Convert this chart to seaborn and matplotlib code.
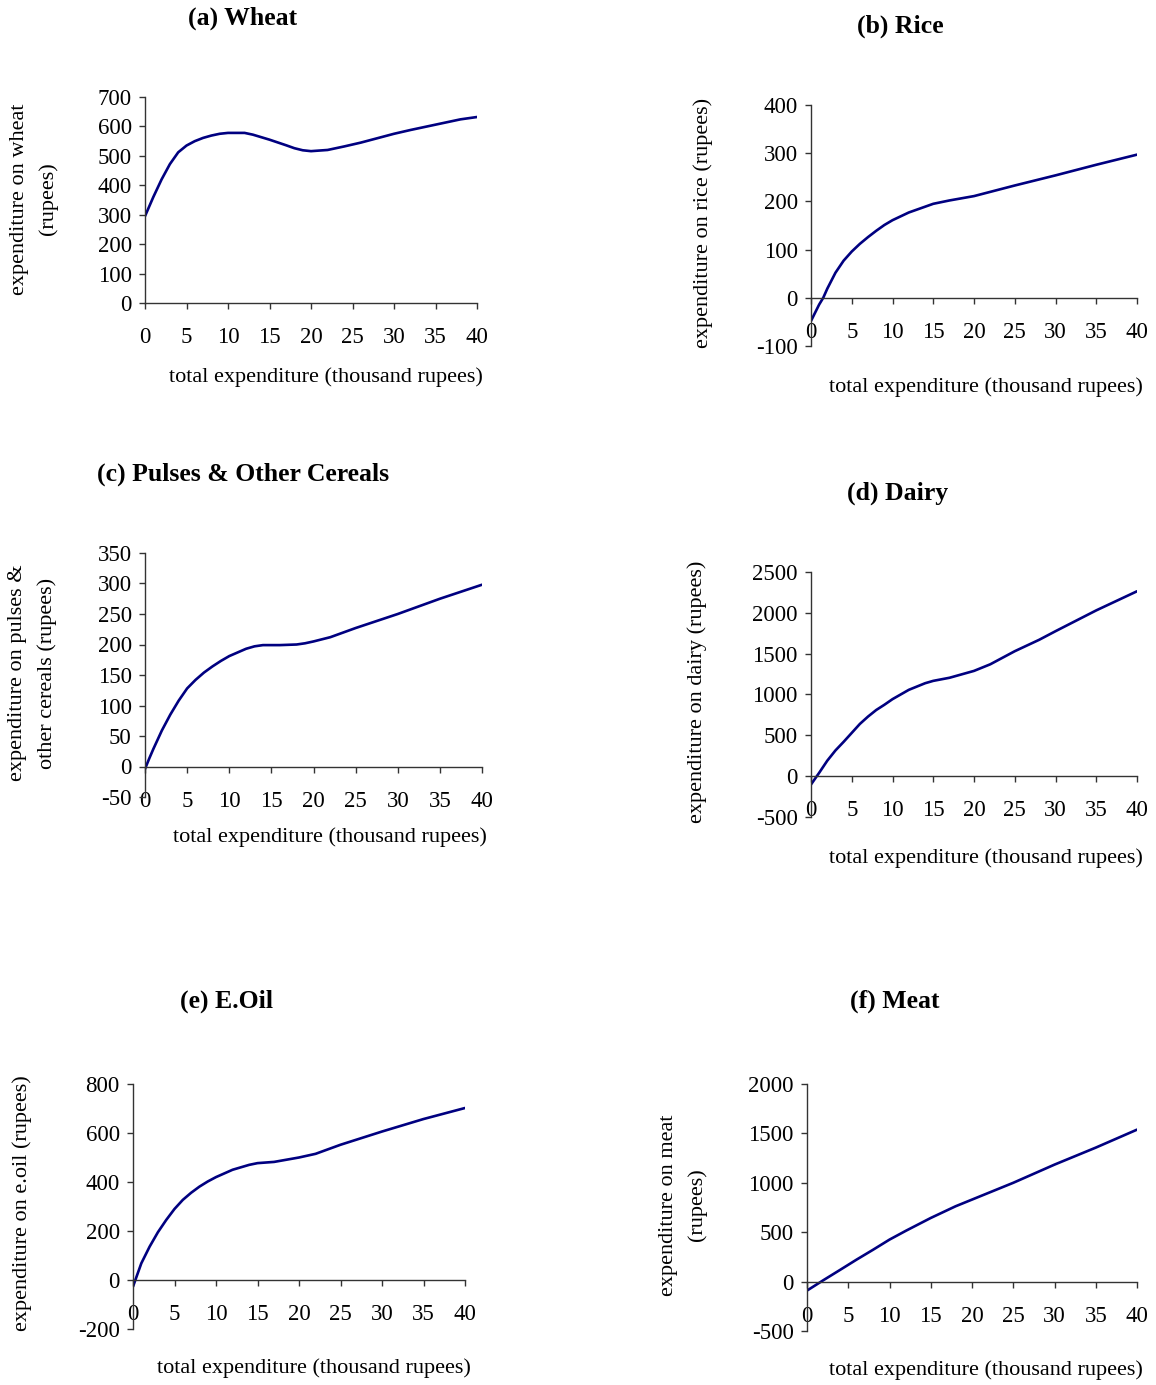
import numpy as np
import pandas as pd
import matplotlib
matplotlib.use("Agg")
import matplotlib.pyplot as plt
import seaborn as sns

# total expenditure (thousand rupees) vs fitted expenditure on each item (rupees)
wheat_x = [0, 1, 2, 3, 4, 5, 6, 7, 8, 9, 10, 12, 13, 15, 17, 18, 19, 20, 22, 24, 26, 28, 30, 32, 34, 36, 38, 40]
wheat_y = [295, 360, 420, 472, 512, 535, 550, 561, 569, 575, 578, 578, 572, 555, 536, 526, 519, 516, 520, 532, 545, 560, 575, 588, 600, 612, 624, 632]

rice_x = [0, 1, 1.5, 2, 3, 4, 5, 6, 7, 8, 9, 10, 12, 14, 15, 17, 20, 25, 30, 35, 40]
rice_y = [-48, -14, 0, 19, 52, 77, 96, 112, 126, 139, 151, 161, 177, 189, 195, 202, 211, 233, 254, 276, 297]

pulses_x = [0, 0.5, 1, 2, 3, 4, 5, 6, 7, 8, 9, 10, 11, 12, 13, 14, 16, 18, 19, 20, 22, 25, 30, 35, 40]
pulses_y = [-4, 13, 29, 59, 85, 108, 128, 142, 154, 164, 173, 181, 187, 193, 197, 199, 199, 200, 202, 205, 212, 227, 250, 275, 298]

dairy_x = [0, 1, 2, 3, 4, 5, 6, 7, 8, 9, 10, 12, 14, 15, 17, 20, 22, 25, 28, 30, 35, 40]
dairy_y = [-102, 41, 190, 315, 420, 530, 640, 730, 810, 874, 943, 1057, 1138, 1167, 1205, 1289, 1370, 1530, 1670, 1775, 2030, 2264]

oil_x = [0, 1, 2, 3, 4, 5, 6, 7, 8, 9, 10, 12, 14, 15, 17, 20, 22, 25, 30, 35, 40]
oil_y = [-27, 68, 136, 195, 245, 290, 327, 356, 381, 402, 420, 450, 470, 477, 482, 500, 515, 552, 606, 657, 702]

meat_x = [0, 2, 4, 6, 8, 10, 12, 15, 18, 20, 25, 30, 35, 40]
meat_y = [-91, 15, 118, 222, 322, 425, 515, 644, 762, 830, 1000, 1184, 1356, 1538]

x_ticks = [0, 5, 10, 15, 20, 25, 30, 35, 40]
xlab = "total expenditure (thousand rupees)"

sns.set_style("ticks")
plt.rcParams["font.family"] = ["Liberation Serif", "DejaVu Serif"]
plt.rcParams["axes.unicode_minus"] = False
plt.rcParams["text.color"] = "black"

W, H = 1156, 1385
fig = plt.figure(figsize=(W / 100, H / 100), dpi=100)
navy = "#000080"
axcol = "#333333"

# (x, y, title, ylabel lines, ylim, yticks, box [left, right, top, bottom],
#  title centre, ylabel x positions + centre y, xlabel centre)
panels = [
    (wheat_x, wheat_y, "(a) Wheat", ["expenditure on wheat", "(rupees)"],
     (0, 700), range(0, 701, 100), (145, 477, 97, 303), (243, 18), ([20, 48], 199), (326, 377)),
    (rice_x, rice_y, "(b) Rice", ["expenditure on rice (rupees)"],
     (-100, 400), range(-100, 401, 100), (811, 1137, 105, 346), (900, 26), ([703], 223), (986, 387)),
    (pulses_x, pulses_y, "(c) Pulses & Other Cereals", ["expenditure on pulses &", "other cereals (rupees)"],
     (-50, 350), range(-50, 351, 50), (145, 482, 553, 797), (243, 474), ([18, 47], 673), (330, 837)),
    (dairy_x, dairy_y, "(d) Dairy", ["expenditure on dairy (rupees)"],
     (-500, 2500), range(-500, 2501, 500), (811, 1137, 572, 817), (898, 493), ([697], 692), (986, 858)),
    (oil_x, oil_y, "(e) E.Oil", ["expenditure on e.oil (rupees)"],
     (-200, 800), range(-200, 801, 200), (133, 465, 1084, 1329), (226, 1001), ([22], 1203), (314, 1368)),
    (meat_x, meat_y, "(f) Meat", ["expenditure on meat", "(rupees)"],
     (-500, 2000), range(-500, 2001, 500), (807, 1137, 1084, 1331), (895, 1001), ([668, 697], 1205), (986, 1370)),
]

for xs, ys, title, ylines, ylim, yticks, box, tpos, ypos, xpos in panels:
    l, r, t, b = box
    ax = fig.add_axes([l / W, 1 - b / H, (r - l) / W, (b - t) / H])
    df = pd.DataFrame({"x": xs, "y": ys})
    sns.lineplot(data=df, x="x", y="y", ax=ax, color=navy, lw=1.9)
    ax.set_xlim(0, 40)
    ax.set_ylim(*ylim)
    ax.set_xticks(x_ticks)
    ax.set_yticks(list(yticks))
    ax.set_xlabel("")
    ax.set_ylabel("")
    ax.spines["top"].set_visible(False)
    ax.spines["right"].set_visible(False)
    ax.spines["bottom"].set_position(("data", 0))
    for s in ("left", "bottom"):
        ax.spines[s].set_color(axcol)
        ax.spines[s].set_linewidth(1.0)
    ax.tick_params(axis="both", direction="out", length=4.5, width=1.0, color=axcol,
                   labelsize=16.5, labelcolor="black")
    ax.tick_params(axis="x", pad=13)
    ax.tick_params(axis="y", pad=5)
    ax.patch.set_alpha(0)

    fig.text(tpos[0] / W, 1 - tpos[1] / H, title, ha="center", va="center",
             fontsize=18.5, fontweight="bold", color="black")
    for xx, line in zip(ypos[0], ylines):
        fig.text(xx / W, 1 - ypos[1] / H, line, ha="center", va="center",
                 rotation=90, fontsize=16, color="black")
    fig.text(xpos[0] / W, 1 - xpos[1] / H, xlab, ha="center", va="center",
             fontsize=16, color="black")

plt.savefig("out.png", dpi=100)
